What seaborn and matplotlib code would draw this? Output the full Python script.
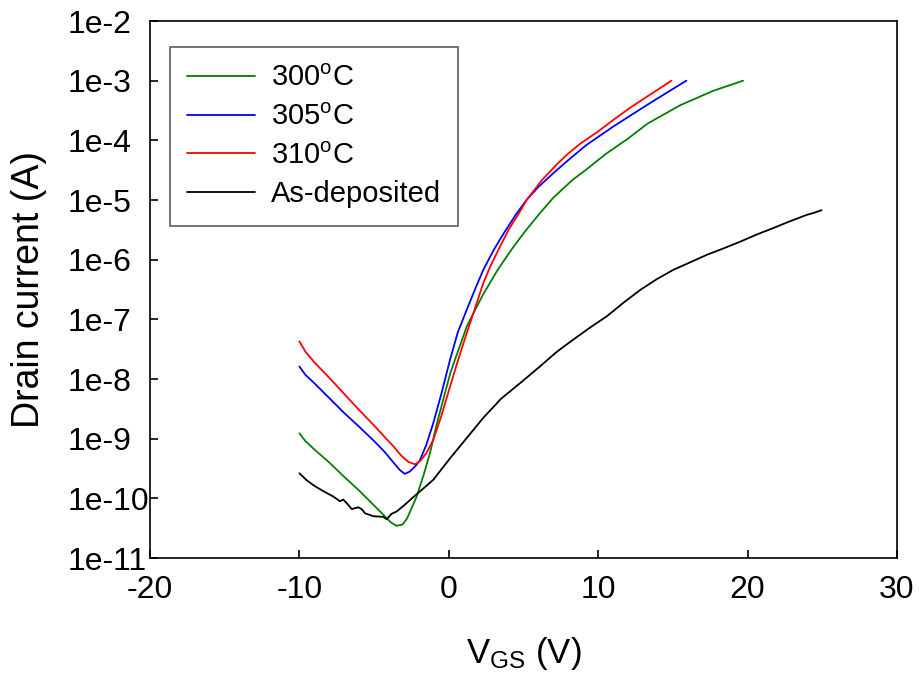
import numpy as np
import pandas as pd
import matplotlib
matplotlib.use("Agg")
import matplotlib.pyplot as plt
import seaborn as sns

# ---- data ----
vgs_300 = [-10, -9.6, -9.0, -8.0, -7.0, -6.0, -5.0, -4.4, -3.9, -3.5, -3.1, -2.8, -2.5, -2.15,
           -1.7, -1.26, -0.8, 0.1, 1.2, 2.3, 3.3, 4.2, 5.0, 6.0, 7.0, 8.3, 9.2, 10.5, 12.0,
           13.3, 15.5, 17.7, 19.7]
log_id_300 = [-8.91, -9.04, -9.18, -9.40, -9.64, -9.87, -10.12, -10.27, -10.40, -10.46, -10.44,
              -10.34, -10.17, -9.97, -9.62, -9.24, -8.75, -7.90, -7.12, -6.58, -6.16, -5.83,
              -5.56, -5.25, -4.96, -4.66, -4.49, -4.23, -3.97, -3.72, -3.41, -3.17, -3.0]

vgs_305 = [-10, -9.6, -9.0, -8.0, -7.0, -6.0, -5.0, -4.3, -3.7, -3.3, -2.95, -2.6, -2.2, -1.93,
           -1.5, -1.04, -0.5, 0.08, 0.6, 1.2, 1.8, 2.31, 3.0, 3.7, 4.5, 5.2, 6.0, 7.0, 8.0,
           9.2, 11.0, 13.25, 14.6, 15.9]
log_id_305 = [-7.79, -7.93, -8.07, -8.32, -8.57, -8.80, -9.04, -9.22, -9.40, -9.52, -9.59, -9.55,
              -9.45, -9.36, -9.10, -8.74, -8.25, -7.68, -7.22, -6.84, -6.47, -6.17, -5.84, -5.55,
              -5.24, -5.0, -4.78, -4.55, -4.33, -4.08, -3.77, -3.41, -3.20, -3.0]

vgs_310 = [-10, -9.6, -9.0, -8.0, -7.0, -6.0, -5.0, -4.3, -3.7, -3.2, -2.7, -2.26, -1.9, -1.5,
           -1.04, -0.5, 0.08, 0.6, 1.2, 1.8, 2.31, 2.8, 3.31, 4.0, 4.77, 5.21, 6.22, 7.2, 8.0,
           8.78, 10.0, 11.0, 12.1, 13.25, 14.3, 14.9]
log_id_310 = [-7.37, -7.54, -7.72, -7.98, -8.25, -8.52, -8.78, -8.97, -9.13, -9.28, -9.39, -9.43,
              -9.37, -9.24, -9.02, -8.62, -8.13, -7.70, -7.23, -6.78, -6.39, -6.10, -5.84, -5.50,
              -5.19, -5.0, -4.67, -4.41, -4.22, -4.06, -3.85, -3.66, -3.46, -3.27, -3.10, -3.0]

vgs_asdep = [-10, -9.5, -9.0, -8.4, -7.73, -7.28, -7.06, -6.73, -6.50, -6.06, -5.83, -5.61, -5.05,
             -4.39, -4.16, -3.83, -3.49, -3.0, -2.38, -1.82, -1.04, 0.08, 1.0, 2.31, 3.5, 4.77,
             6.1, 7.2, 8.33, 9.5, 10.57, 11.7, 12.8, 13.9, 15.03, 16.2, 17.26, 18.4, 19.49,
             20.6, 21.72, 22.8, 23.95, 24.5, 24.95]
log_id_asdep = [-9.58, -9.70, -9.79, -9.88, -9.97, -10.05, -10.02, -10.11, -10.18, -10.15, -10.18,
                -10.25, -10.30, -10.31, -10.35, -10.26, -10.22, -10.12, -9.98, -9.86, -9.69,
                -9.33, -9.05, -8.65, -8.33, -8.07, -7.79, -7.55, -7.34, -7.13, -6.95, -6.72,
                -6.51, -6.33, -6.17, -6.04, -5.92, -5.81, -5.70, -5.58, -5.47, -5.36, -5.25,
                -5.21, -5.17]

series_labels = [r'300$\mathregular{^o}$C', r'305$\mathregular{^o}$C',
                 r'310$\mathregular{^o}$C', 'As-deposited']
series_colors = ['#008000', '#0000FF', '#FF0000', '#000000']

x_ticks = [-20, -10, 0, 10, 20, 30]
y_ticks = [1e-11, 1e-10, 1e-9, 1e-8, 1e-7, 1e-6, 1e-5, 1e-4, 1e-3, 1e-2]
y_tick_labels = ['1e-11', '1e-10', '1e-9', '1e-8', '1e-7', '1e-6', '1e-5', '1e-4', '1e-3', '1e-2']

# ---- build long table ----
frames = []
for lab, xs, ls in zip(series_labels,
                       [vgs_300, vgs_305, vgs_310, vgs_asdep],
                       [log_id_300, log_id_305, log_id_310, log_id_asdep]):
    frames.append(pd.DataFrame({'Vgs': xs, 'Id': np.power(10.0, ls), 'sample': lab}))
df = pd.concat(frames, ignore_index=True)

sns.set_theme(style='white')
plt.rcParams['font.family'] = ['Liberation Sans', 'DejaVu Sans']
plt.rcParams['mathtext.fontset'] = 'custom'
plt.rcParams['mathtext.rm'] = 'Liberation Sans'
plt.rcParams['mathtext.it'] = 'Liberation Sans'
plt.rcParams['text.color'] = 'black'

fig = plt.figure(figsize=(9.2, 6.83), dpi=100)
ax = fig.add_axes([150 / 920, 1 - 558 / 683, (897 - 150) / 920, (558 - 21) / 683])

sns.lineplot(data=df, x='Vgs', y='Id', hue='sample', hue_order=series_labels,
             palette=series_colors, sort=False, estimator=None, units='sample',
             linewidth=1.3, ax=ax, legend=True)

ax.set_yscale('log')
ax.set_xlim(-20, 30)
ax.set_ylim(1e-11, 1e-2)
ax.set_xticks(x_ticks)
ax.set_xticklabels([str(t) for t in x_ticks])
ax.set_yticks(y_ticks)
ax.set_yticklabels(y_tick_labels)
ax.yaxis.set_minor_locator(matplotlib.ticker.NullLocator())

for s in ax.spines.values():
    s.set_color('black')
    s.set_linewidth(1.2)

ax.tick_params(axis='both', which='major', direction='in', length=6, width=1.2,
               colors='black', labelsize=23)
ax.tick_params(axis='x', bottom=True, top=False, pad=12)
ax.tick_params(axis='y', left=True, right=False, pad=59)
for lab in ax.get_yticklabels():
    lab.set_horizontalalignment('left')

ax.set_xlabel(r'$\mathregular{V_{GS}}$ (V)', fontsize=25, color='black', labelpad=22)
ax.set_ylabel('Drain current (A)', fontsize=27, color='black')
ax.yaxis.set_label_coords(-0.138, 0.5)

handles, labels = ax.get_legend_handles_labels()
leg = ax.legend(handles, labels, loc='upper left',
                bbox_to_anchor=((170 - 150) / 747, (558 - 47) / 537),
                borderaxespad=0, frameon=True, fancybox=False, fontsize=21,
                handlelength=2.3, handletextpad=0.55, labelspacing=0.36,
                borderpad=0.6, edgecolor='#333333', labelcolor='black')
leg.get_frame().set_linewidth(1.2)
for line in leg.get_lines():
    line.set_linewidth(1.3)

fig.savefig('out.png', dpi=100, facecolor='white')
